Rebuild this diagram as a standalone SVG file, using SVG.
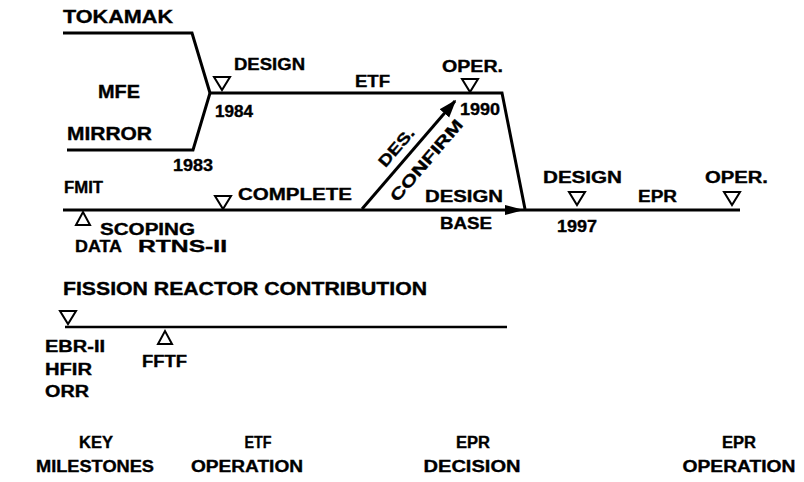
<svg xmlns="http://www.w3.org/2000/svg" xmlns:xlink="http://www.w3.org/1999/xlink" width="804" height="482" viewBox="0 0 804 482">
<style>
  .t { font-family: "Liberation Sans", Arial, sans-serif; font-weight: bold; font-size: 16px; fill: #000; stroke: #000; stroke-width: 0.35; }
  .b { font-size: 17.5px; }
  .c { text-anchor: middle; }
  .ln { fill: none; stroke: #000; stroke-width: 3; stroke-linejoin: miter; }
  .thin { stroke-width: 2.6; }
  .tri { fill: #fff; stroke: #000; stroke-width: 2; stroke-linejoin: miter; }
</style>
<defs>
  <path id="down" d="M-8,0 H8 L0,13 Z"/>
  <path id="up" d="M-7,13 H7 L0,0 Z"/>
  <marker id="ah" viewBox="0 0 10 10" refX="9" refY="5" markerWidth="6" markerHeight="6" orient="auto" markerUnits="strokeWidth">
    <path d="M0,1.5 L10,5 L0,8.5 Z" fill="#000"/>
  </marker>
</defs>
<rect width="804" height="482" fill="#fff"/>

<g id="connectors">
  <path class="ln" d="M63,33 H192 L210,93"/>
  <path class="ln" d="M67,150 H193 L210,93"/>
  <path class="ln" d="M210,93 H502 L525,209"/>
  <path class="ln" d="M63,210 H740"/>
  <path class="ln" d="M362,209 L455,101" marker-end="url(#ah)"/>
  <path d="M505,205 L524,210 L505,215 Z" fill="#000"/>
  <path class="ln thin" d="M65,327 H507"/>
</g>

<g id="mfe">
  <text class="t b" x="63" y="23" textLength="110" lengthAdjust="spacingAndGlyphs" style="font-size:18px">TOKAMAK</text>
  <text class="t b" x="98" y="98" textLength="42" lengthAdjust="spacingAndGlyphs">MFE</text>
  <text class="t b" x="67" y="140" textLength="85" lengthAdjust="spacingAndGlyphs">MIRROR</text>
  <text class="t" x="173" y="171" textLength="40" lengthAdjust="spacingAndGlyphs">1983</text>
</g>

<g id="etf">
  <use href="#down" x="222" y="77" class="tri"/>
  <text class="t" x="234" y="70" textLength="71" lengthAdjust="spacingAndGlyphs">DESIGN</text>
  <text class="t" x="215" y="117" textLength="38" lengthAdjust="spacingAndGlyphs">1984</text>
  <text class="t" x="355" y="87" textLength="35" lengthAdjust="spacingAndGlyphs">ETF</text>
  <use href="#down" x="470" y="79" class="tri"/>
  <text class="t" x="442" y="72" textLength="61" lengthAdjust="spacingAndGlyphs">OPER.</text>
  <text class="t" x="460" y="115" textLength="40" lengthAdjust="spacingAndGlyphs">1990</text>
</g>

<g id="des-confirm">
  <text class="t c" transform="translate(396,147) rotate(-49.4)" y="6" textLength="46" lengthAdjust="spacingAndGlyphs">DES.</text>
  <text class="t c" transform="translate(426,160) rotate(-49.4)" y="6" textLength="102" lengthAdjust="spacingAndGlyphs">CONFIRM</text>
</g>

<g id="fmit">
  <text class="t" x="64" y="193" textLength="39" lengthAdjust="spacingAndGlyphs">FMIT</text>
  <use href="#up" x="83" y="212" class="tri"/>
  <text class="t" x="100" y="235" textLength="95" lengthAdjust="spacingAndGlyphs">SCOPING</text>
  <text class="t" x="75" y="252" textLength="47" lengthAdjust="spacingAndGlyphs">DATA</text>
  <text class="t" x="138" y="252" textLength="89" lengthAdjust="spacingAndGlyphs">RTNS-II</text>
  <use href="#down" x="223" y="196" class="tri"/>
  <text class="t" x="238" y="200" textLength="114" lengthAdjust="spacingAndGlyphs">COMPLETE</text>
  <text class="t" x="425" y="202" textLength="78" lengthAdjust="spacingAndGlyphs">DESIGN</text>
  <text class="t" x="440" y="229" textLength="52" lengthAdjust="spacingAndGlyphs">BASE</text>
</g>

<g id="epr">
  <use href="#down" x="577" y="192" class="tri"/>
  <text class="t" x="543" y="183" textLength="79" lengthAdjust="spacingAndGlyphs">DESIGN</text>
  <text class="t" x="557" y="232" textLength="40" lengthAdjust="spacingAndGlyphs">1997</text>
  <text class="t" x="638" y="202" textLength="39" lengthAdjust="spacingAndGlyphs">EPR</text>
  <use href="#down" x="732" y="192" class="tri"/>
  <text class="t" x="705" y="183" textLength="63" lengthAdjust="spacingAndGlyphs">OPER.</text>
</g>

<g id="fission">
  <text class="t" x="63" y="295" textLength="364" lengthAdjust="spacingAndGlyphs" style="font-size:17.5px">FISSION REACTOR CONTRIBUTION</text>
  <use href="#down" x="68" y="311" class="tri"/>
  <use href="#up" x="165" y="331" class="tri"/>
  <text class="t" x="45" y="352" textLength="60" lengthAdjust="spacingAndGlyphs">EBR-II</text>
  <text class="t" x="45" y="375" textLength="47" lengthAdjust="spacingAndGlyphs">HFIR</text>
  <text class="t" x="45" y="397" textLength="44" lengthAdjust="spacingAndGlyphs">ORR</text>
  <text class="t" x="142" y="367" textLength="45" lengthAdjust="spacingAndGlyphs">FFTF</text>
</g>

<g id="milestones">
  <text class="t c" x="96" y="448" textLength="34" lengthAdjust="spacingAndGlyphs">KEY</text>
  <text class="t c" x="95" y="472" textLength="118" lengthAdjust="spacingAndGlyphs">MILESTONES</text>
  <text class="t c" x="258" y="448" textLength="27" lengthAdjust="spacingAndGlyphs">ETF</text>
  <text class="t c" x="247" y="472" textLength="112" lengthAdjust="spacingAndGlyphs">OPERATION</text>
  <text class="t c" x="473" y="448" textLength="34" lengthAdjust="spacingAndGlyphs">EPR</text>
  <text class="t c" x="472" y="472" textLength="97" lengthAdjust="spacingAndGlyphs">DECISION</text>
  <text class="t c" x="739" y="448" textLength="34" lengthAdjust="spacingAndGlyphs">EPR</text>
  <text class="t c" x="739" y="472" textLength="113" lengthAdjust="spacingAndGlyphs">OPERATION</text>
</g>
</svg>
